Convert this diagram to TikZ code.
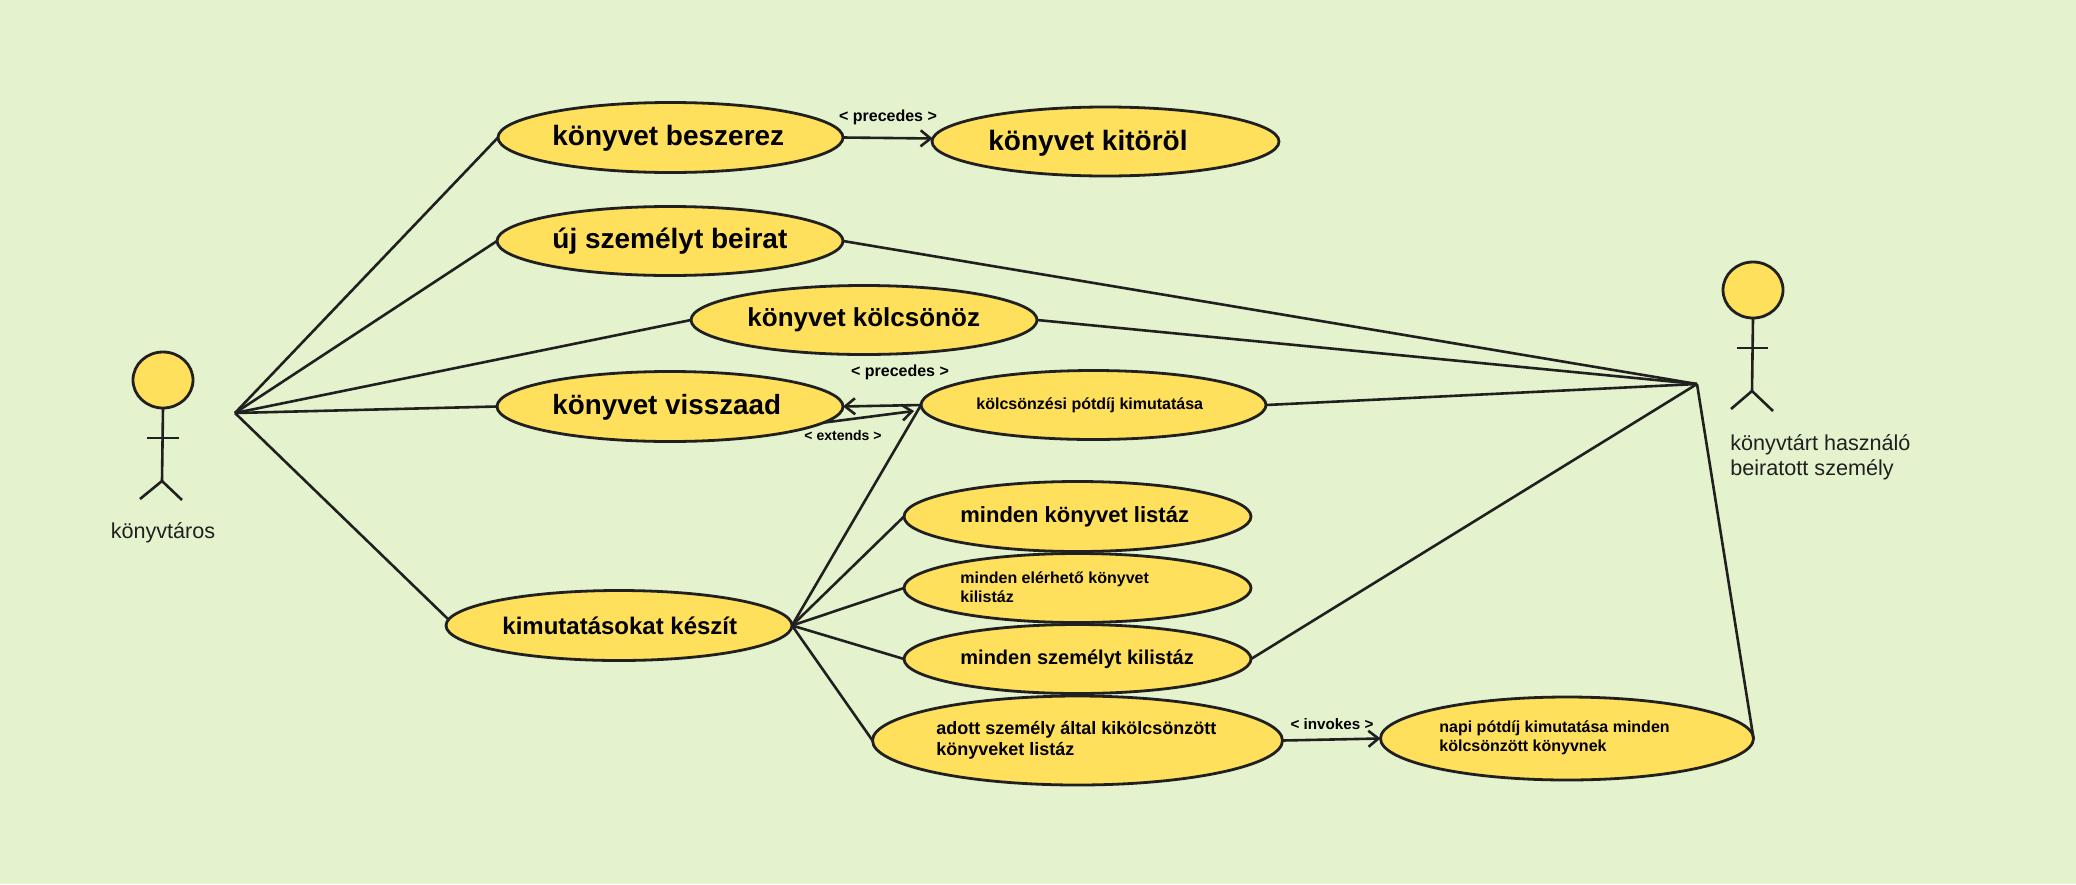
\documentclass[tikz,border=0pt]{standalone}
\usepackage{fontspec}
\setmainfont{Liberation Sans}
\usetikzlibrary{shapes.geometric,arrows.meta}
\definecolor{bgc}{RGB}{228,243,205}
\definecolor{ucfill}{RGB}{255,224,92}
\definecolor{ink}{RGB}{32,32,32}
\tikzset{
  uc/.style 2 args={ellipse,draw=ink,fill=ucfill,line width=1.4pt,inner sep=0pt,outer sep=0pt,minimum width=#1*0.5pt,minimum height=#2*0.5pt},
  head/.style={ellipse,draw=ink,fill=ucfill,line width=1.4pt,inner sep=0pt,outer sep=0pt,minimum width=30pt,minimum height=28pt},
  conn/.style={draw=ink,line width=1.3pt},
  arr/.style={draw=ink,line width=1.3pt,-{Straight Barb[length=5pt,width=8pt,line width=1.3pt]}},
  txt/.style={anchor=west,inner sep=0pt,align=left,font=\fontsize{#1}{#1}\selectfont\bfseries},
  rel/.style={inner sep=0pt,font=\fontsize{#1}{#1}\selectfont\bfseries},
  actxt/.style={inner sep=0pt,text=ink,align=left,font=\fontsize{10.8}{12.4}\selectfont},
}
\begin{document}
\begin{tikzpicture}[x=0.5pt,y=-0.5pt]
\fill[bgc] (0,0) rectangle (2076,884);
\useasboundingbox (0,0) rectangle (2076,884);
% use cases
\node[uc={345}{70}] (besz) at (670.5,137.5) {};
\node[uc={347}{69}] (kit) at (1105.5,141.5) {};
\node[uc={346}{69}] (uj) at (670,241) {};
\node[uc={346}{69}] (kolcs) at (864,320) {};
\node[uc={346}{70}] (vissza) at (670,406.5) {};
\node[uc={345}{69}] (potd) at (1093.5,405) {};
\node[uc={347}{70}] (mkl) at (1077.5,516.5) {};
\node[uc={347}{69}] (mel) at (1077.5,588) {};
\node[uc={347}{69}] (msz) at (1077.5,659) {};
\node[uc={346}{70}] (kim) at (619,625.5) {};
\node[uc={410}{89}] (adott) at (1077.5,740.5) {};
\node[uc={373}{83}] (napi) at (1567,738.5) {};
% actors
\node[head] (h1) at (163,380) {};
\coordinate (n1) at (162,481);
\coordinate (a1l) at (147,438);
\coordinate (a1r) at (179,438);
\coordinate (l1l) at (140,499);
\coordinate (l1r) at (182,500);
\draw[conn] (h1.south) -- (n1);
\draw[conn] (a1l) -- (a1r);
\draw[conn] (l1l) -- (n1) -- (l1r);
\node[head] (h2) at (1753,290) {};
\coordinate (n2) at (1752,391);
\coordinate (a2l) at (1737,348);
\coordinate (a2r) at (1768,348);
\coordinate (l2l) at (1731,409);
\coordinate (l2r) at (1773,411);
\draw[conn] (h2.south) -- (n2);
\draw[conn] (a2l) -- (a2r);
\draw[conn] (l2l) -- (n2) -- (l2r);
\coordinate (hubL) at (235,413);
\coordinate (hubR) at (1697,384);
% left actor associations
\draw[conn] (hubL) -- (besz.west);
\draw[conn] (hubL) -- (uj.west);
\draw[conn] (hubL) -- (kolcs.west);
\draw[conn] (hubL) -- (vissza.west);
\draw[conn] (hubL) -- (kim.178);
% right actor associations
\draw[conn] (uj.east) -- (hubR);
\draw[conn] (kolcs.east) -- (hubR);
\draw[conn] (potd.east) -- (hubR);
\draw[conn] (msz.east) -- (hubR);
\draw[conn] (napi.east) -- (hubR);
% kimutatás
\draw[conn] (kim.east) -- (potd.west);
\draw[conn] (kim.east) -- (mkl.west);
\draw[conn] (kim.east) -- (mel.west);
\draw[conn] (kim.east) -- (msz.west);
\draw[conn] (kim.east) -- (adott.west);
% arrows
\draw[arr] (besz.east) -- (kit.179);
\draw[arr] (potd.west) -- (vissza.east);
\coordinate (extTo) at (914,411);
\draw[arr] (vissza.-6) -- (extTo);
\draw[arr] (adott.east) -- (napi.180.7);
% texts
\node[txt=14] (t1) at (552,138) {könyvet beszerez};
\node[txt=14] (t2) at (988,143) {könyvet kitöröl};
\node[txt=14] (t3) at (552,241) {új személyt beirat};
\node[txt=13] (t4) at (747,320) {könyvet kölcsönöz};
\node[txt=13.9] (t5) at (552,407) {könyvet visszaad};
\node[txt=8] (t6) at (976,405) {kölcsönzési pótdíj kimutatása};
\node[txt=11] (t7) at (960,517) {minden könyvet listáz};
\node[txt=8,font=\fontsize{8}{9.3}\selectfont\bfseries] (t8) at (960,587) {minden elérhető könyvet\\kilistáz};
\node[txt=10] (t9) at (960,659) {minden személyt kilistáz};
\node[txt=12] (t10) at (502,626) {kimutatásokat készít};
\node[txt=9,font=\fontsize{9}{10.6}\selectfont\bfseries] (t11) at (936,740) {adott személy által kikölcsönzött\\könyveket listáz};
\node[txt=8,font=\fontsize{8}{9.4}\selectfont\bfseries] (t12) at (1439,738) {napi pótdíj kimutatása minden\\kölcsönzött könyvnek};
\node[rel=8] (r1) at (888,117) {< precedes >};
\node[rel=8] (r2) at (900,372) {< precedes >};
\node[rel=7] (r3) at (843,435) {< extends >};
\node[rel=7.6] (r4) at (1332,724) {< invokes >};
\node[actxt] (act1) at (163,533) {könyvtáros};
\node[actxt,anchor=west] (act2) at (1730,457) {könyvtárt használó\\beiratott személy};
\end{tikzpicture}
\end{document}
